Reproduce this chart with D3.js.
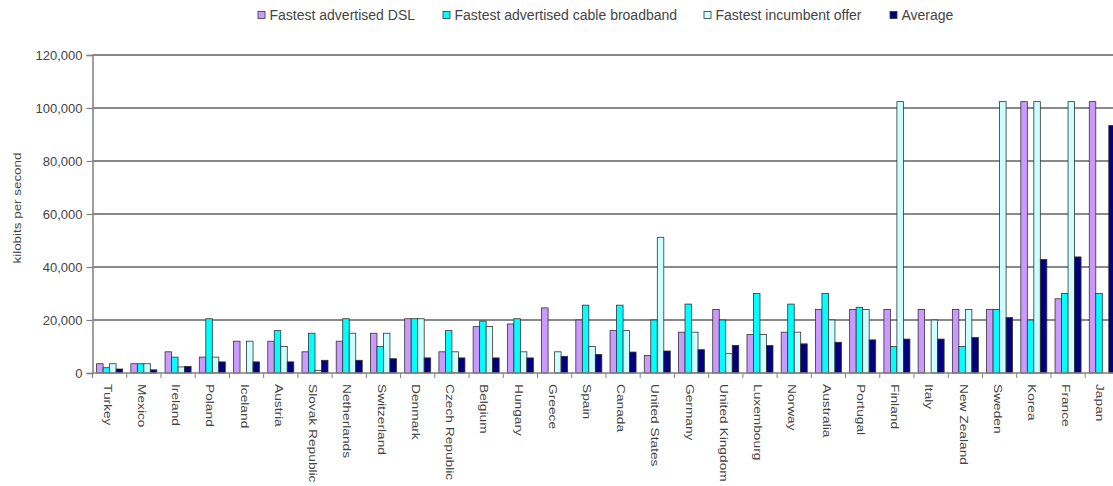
<!DOCTYPE html>
<html>
<head>
<meta charset="utf-8">
<script src="https://d3js.org/d3.v7.min.js"></script>
<style>
  body { margin: 0; background: #fff; }
  svg { display: block; font-family: "Liberation Sans", Arial, sans-serif; }
</style>
</head>
<body>
<div id="chart"></div>
<script>
// data (kilobits per second)
const countries = ["Turkey", "Mexico", "Ireland", "Poland", "Iceland", "Austria", "Slovak Republic",
  "Netherlands", "Switzerland", "Denmark", "Czech Republic", "Belgium", "Hungary", "Greece", "Spain",
  "Canada", "United States", "Germany", "United Kingdom", "Luxembourg", "Norway", "Australia",
  "Portugal", "Finland", "Italy", "New Zealand", "Sweden", "Korea", "France", "Japan"];
const dsl       = [3500, 3500, 8000, 6000, 12000, 12000, 8000, 12000, 15000, 20480, 8000, 17500, 18500, 24576, 20000,
  16000, 6600, 15400, 24000, 14500, 15400, 24000, 24000, 24000, 24000, 24000, 24000, 102400, 28000, 102400];
const cable     = [2000, 3500, 6000, 20480, 0, 16000, 15000, 20480, 10000, 20480, 16000, 19600, 20480, 0, 25600,
  25600, 20000, 26000, 20000, 30000, 26000, 30000, 24800, 10000, 0, 10000, 24000, 20000, 30000, 30000];
const incumbent = [3500, 3500, 2300, 6000, 12000, 10000, 1000, 15000, 15000, 20480, 8000, 17500, 8000, 8000, 10000,
  16000, 51200, 15400, 7300, 14500, 15400, 20000, 24000, 102400, 20000, 24000, 102400, 102400, 102400, 0];
const average   = [1500, 1200, 2500, 4200, 4200, 4200, 4800, 4800, 5400, 5700, 5700, 5700, 5700, 6300, 7000,
  7900, 8300, 8800, 10400, 10400, 11000, 11600, 12500, 12800, 12800, 13400, 20900, 42800, 43800, 93400];
const seriesNames = ["Fastest advertised DSL", "Fastest advertised cable broadband", "Fastest incumbent offer", "Average"];
const yTicks = [0, 20000, 40000, 60000, 80000, 100000, 120000];

const colors = ["#cc99ff", "#00ffff", "#ccffff", "#000080"];
const width = 1113, height = 486;
const plotLeft = 92.5, plotTop = 55, plotBottom = 373;
const plotRight = plotLeft + 30 * 34.23;

const svg = d3.select("#chart").append("svg")
  .attr("width", width)
  .attr("height", height);

const x0 = d3.scaleBand()
  .domain(countries)
  .range([plotLeft, plotRight])
  .paddingInner(0.24)
  .paddingOuter(0.12);

const x1 = d3.scaleBand()
  .domain(d3.range(4))
  .range([0, x0.bandwidth()]);

const y = d3.scaleLinear()
  .domain([0, 120000])
  .range([plotBottom, plotTop]);

// gridlines
svg.append("g")
  .selectAll("line")
  .data(yTicks.filter(d => d > 0))
  .join("line")
  .attr("x1", plotLeft).attr("x2", plotRight)
  .attr("y1", d => y(d)).attr("y2", d => y(d))
  .attr("stroke", "#626262")
  .attr("stroke-width", 1.4);

// y axis
const yAxis = svg.append("g")
  .attr("transform", `translate(${plotLeft},0)`)
  .call(d3.axisLeft(y).tickValues(yTicks).tickFormat(d3.format(",")).tickSize(6).tickPadding(4));
yAxis.select(".domain").attr("stroke", "#808080").attr("stroke-width", 1.5);
yAxis.selectAll(".tick line").attr("stroke", "#808080").attr("stroke-width", 1.2);
yAxis.selectAll("text")
  .attr("font-size", 13)
  .attr("fill", "#444")
  .attr("font-family", "'Liberation Sans', Arial, sans-serif");

svg.append("text")
  .attr("transform", `translate(17,208) rotate(-90) scale(1.22,1)`)
  .attr("text-anchor", "middle")
  .attr("dy", "0.35em")
  .attr("font-size", 11)
  .attr("fill", "#444")
  .text("kilobits per second");

// bars
const rows = countries.map((c, i) => ({ c, v: [dsl[i], cable[i], incumbent[i], average[i]] }));
const groups = svg.append("g")
  .selectAll("g")
  .data(rows)
  .join("g")
  .attr("transform", d => `translate(${x0(d.c)},0)`);

groups.selectAll("rect")
  .data(d => d.v.map((v, k) => ({ k, v })).filter(e => e.v > 0))
  .join("rect")
  .attr("x", e => x1(e.k))
  .attr("width", x1.bandwidth())
  .attr("y", e => y(e.v))
  .attr("height", e => plotBottom - y(e.v))
  .attr("fill", e => colors[e.k])
  .attr("stroke", "#333")
  .attr("stroke-width", 0.8);

// x axis line and category ticks
svg.append("line")
  .attr("x1", plotLeft).attr("x2", plotRight)
  .attr("y1", plotBottom).attr("y2", plotBottom)
  .attr("stroke", "#808080").attr("stroke-width", 1.3);

const gap = x0.step() * x0.paddingInner() / 2;
svg.append("g")
  .selectAll("line")
  .data(countries)
  .join("line")
  .attr("x1", d => x0(d) - gap).attr("x2", d => x0(d) - gap)
  .attr("y1", plotBottom).attr("y2", plotBottom + 5)
  .attr("stroke", "#808080");

svg.append("g")
  .selectAll("text")
  .data(countries)
  .join("text")
  .attr("transform", d => `translate(${x0(d) + x0.bandwidth() / 2 - 2},${plotBottom + 11}) rotate(90) scale(1.25,1)`)
  .attr("dy", "0.35em")
  .attr("font-size", 11)
  .attr("fill", "#444")
  .text(d => d);

// legend
const legendX = [261.5, 446.5, 707.5, 893.5];
const legend = svg.append("g")
  .selectAll("g")
  .data(seriesNames)
  .join("g")
  .attr("transform", (d, i) => `translate(${legendX[i]},15)`);
legend.append("rect")
  .attr("x", -3.5).attr("y", -3.5)
  .attr("width", 7).attr("height", 7)
  .attr("fill", (d, i) => colors[i])
  .attr("stroke", "#333")
  .attr("stroke-width", 0.8);
legend.append("text")
  .attr("x", 8)
  .attr("dy", "0.35em")
  .attr("font-size", 14)
  .attr("fill", "#444")
  .text(d => d);
</script>
</body>
</html>
